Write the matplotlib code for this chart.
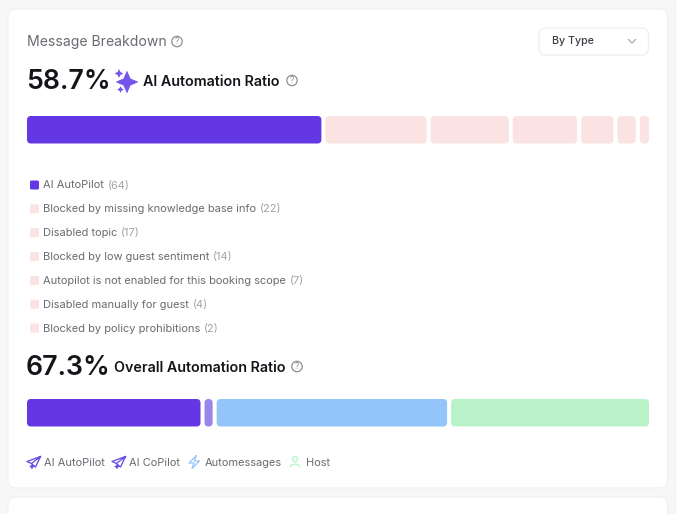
import matplotlib
matplotlib.use("Agg")
import matplotlib.pyplot as plt
from matplotlib.patches import FancyBboxPatch, Circle, PathPatch
from matplotlib.path import Path

plt.rcParams['font.family'] = ['Inter', 'DejaVu Sans']

# legend rows of the first bar
type_labels = ["AI AutoPilot", "Blocked by missing knowledge base info", "Disabled topic",
               "Blocked by low guest sentiment", "Autopilot is not enabled for this booking scope",
               "Disabled manually for guest", "Blocked by policy prohibitions"]
type_counts = [64, 22, 17, 14, 7, 4, 2]
type_colors = ["#6338e4", "#fae3e2", "#fae3e2", "#fae3e2", "#fae3e2", "#fae3e2", "#fae3e2"]

# second bar, values
overall_labels = ["AI AutoPilot", "AI CoPilot", "Automessages", "Host"]
overall_counts = [64, 3, 85, 73]
overall_colors = ["#6338e4", "#9a85ec", "#93c4fa", "#b9f2c8"]
overall_label_x = [44, 129, 205, 306]

TEXT_DARK = "#14151a"
TEXT_GREY = "#6a6b72"
TEXT_LIGHT = "#a3a4a9"

fig = plt.figure(figsize=(6.8, 5.14), dpi=100, facecolor="#f7f7f8")
ax = fig.add_axes([0, 0, 1, 1])
ax.set_xlim(0, 680)
ax.set_ylim(514, 0)
ax.axis("off")


def rounded(x0, y0, x1, y1, r, fc, ec="none", lw=0, z=2):
    p = FancyBboxPatch((x0, y0), x1 - x0, y1 - y0, boxstyle="round,pad=0,rounding_size=%g" % r,
                       fc=fc, ec=ec, lw=lw, zorder=z)
    ax.add_patch(p)


def stacked_bar(values, colors, y0, y1, x0=27, x1=649, gap=4):
    scale = (x1 - x0 - gap * (len(values) - 1)) / sum(values)
    x = x0
    for v, c in zip(values, colors):
        w = v * scale
        rounded(x, y0, x + w, y1, min(4, w / 2), c)
        x += w + gap


def help_icon(cx, cy):
    ax.add_patch(Circle((cx, cy), 5.2, fc="none", ec="#8d8e93", lw=0.9, zorder=3))
    ax.text(cx, cy + 0.2, "?", fontsize=6, color="#8d8e93", ha="center", va="center", zorder=4)


def sparkle(cx, cy, r, color):
    k = 0.3 * r
    verts = [(cx, cy - r), (cx + k, cy - k), (cx + r, cy), (cx + k, cy + k), (cx, cy + r),
             (cx - k, cy + k), (cx - r, cy), (cx - k, cy - k), (cx, cy - r)]
    ax.add_patch(PathPatch(Path(verts, closed=True), fc=color, ec=color, lw=0.6, joinstyle="round", zorder=3))


def plane(x, y, color):
    # little paper plane outline with a star at the lower corner
    pts = [(x + 13.5, y - 5.5), (x, y - 0.5), (x + 4.5, y + 1.5), (x + 13.5, y - 5.5), (x + 8.5, y + 5),
           (x + 5.5, y + 2.5)]
    ax.plot(*zip(*pts), color=color, lw=0.95, solid_joinstyle="round", zorder=3)
    sparkle(x + 5, y + 4.5, 2.2, color)


def bolt(x, y, color):
    pts = [(x + 7, y - 6), (x, y + 1), (x + 5, y + 1), (x + 3, y + 6.5), (x + 10.5, y - 1),
           (x + 5.5, y - 1), (x + 7, y - 6)]
    ax.plot(*zip(*pts), color=color, lw=0.9, solid_joinstyle="round", zorder=3)


def person(cx, cy, color):
    ax.add_patch(Circle((cx, cy - 3), 2.6, fc="none", ec=color, lw=0.9, zorder=3))
    body = Path([(cx - 4.8, cy + 5.5), (cx - 4.8, cy + 1), (cx + 4.8, cy + 1), (cx + 4.8, cy + 5.5)],
                [Path.MOVETO, Path.CURVE4, Path.CURVE4, Path.CURVE4])
    ax.add_patch(PathPatch(body, fc="none", ec=color, lw=0.9, zorder=3))


# cards
rounded(8, 9, 667.5, 488, 8, "#ffffff", ec="#f0f0f1", lw=0.8, z=1)
rounded(8, 497, 667.5, 560, 8, "#ffffff", ec="#f0f0f1", lw=0.8, z=1)
rounded(675, -20, 720, 560, 8, "#fdfdfd", ec="#f0f0f1", lw=0.8, z=1)

# header
ax.text(27, 42, "Message Breakdown", fontsize=10.1, color=TEXT_GREY, va="center", zorder=3)
help_icon(177, 41.5)

# dropdown
rounded(539, 28, 648.5, 55, 7, "#ffffff", ec="#efeff1", lw=0.9)
ax.text(552, 41.5, "By Type", fontsize=7.7, color="#3c3d44", va="center", fontweight="medium", zorder=3)
ax.plot([628.5, 632, 635.5], [39.5, 43, 39.5], color="#a8a9ae", lw=0.9, zorder=3)

# first ratio
ax.text(26, 82, "58.7%", fontsize=19.2, color=TEXT_DARK, va="center", fontweight="semibold", zorder=3)
sparkle(127, 82, 10.5, "#7355ea")
sparkle(119, 73.5, 3.6, "#7355ea")
sparkle(120.5, 89.5, 2.6, "#7355ea")
ax.text(143, 81.5, "AI Automation Ratio", fontsize=10.3, color=TEXT_DARK, va="center",
        fontweight="semibold", zorder=3)
help_icon(292, 80.5)
stacked_bar(type_counts, type_colors, 116, 143.5)

# legend rows
row_y = 185
for label, count, color in zip(type_labels, type_counts, type_colors):
    rounded(30, row_y - 4.5, 39, row_y + 4.5, 1.5, color)
    t = ax.text(43, row_y + 0.5, label, fontsize=7.95, color=TEXT_GREY, va="center", zorder=3)
    fig.canvas.draw()
    bb = t.get_window_extent()
    ax.text(bb.x1 + 4, row_y + 0.5, "(%d)" % count, fontsize=7.95, color=TEXT_LIGHT, va="center", zorder=3)
    row_y += 23.85

# second ratio
ax.text(26, 368, "67.3%", fontsize=19.2, color=TEXT_DARK, va="center", fontweight="semibold", zorder=3)
ax.text(113.5, 367.5, "Overall Automation Ratio", fontsize=10.3, color=TEXT_DARK, va="center",
        fontweight="semibold", zorder=3)
help_icon(297, 366.5)
stacked_bar(overall_counts, overall_colors, 399, 426.5)

# bottom legend
plane(27, 462, "#6a4ce6")
plane(112, 462, "#6a4ce6")
bolt(189, 462, "#93c4fa")
person(295, 462, "#b9f2c8")
for label, x in zip(overall_labels, overall_label_x):
    ax.text(x, 462.5, label, fontsize=7.95, color=TEXT_GREY, va="center", zorder=3)

fig.savefig("out.png", dpi=100, facecolor=fig.get_facecolor())
